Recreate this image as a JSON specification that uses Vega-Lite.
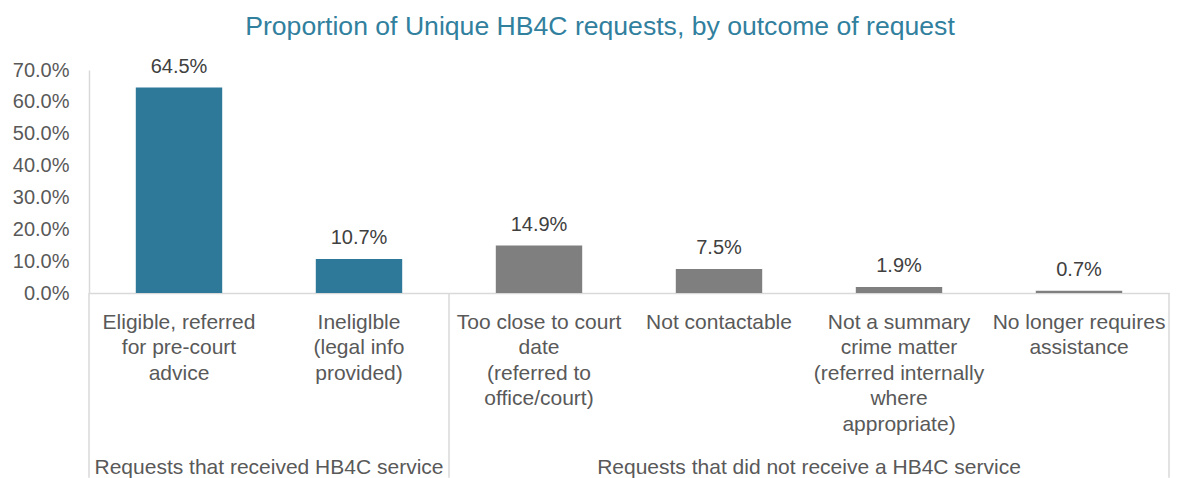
{
  "$schema": "https://vega.github.io/schema/vega-lite/v6.json",
  "width": 1080,
  "height": 223,
  "padding": {"left": 12, "top": 13, "right": 7, "bottom": 0},
  "title": {
    "text": "Proportion of Unique HB4C requests, by outcome of request",
    "fontSize": 26.6,
    "fontWeight": "normal",
    "color": "#31809E",
    "font": "Liberation Sans",
    "anchor": "middle",
    "frame": "bounds",
    "dx": 9,
    "offset": 16
  },
  "config": {
    "view": {"stroke": null},
    "font": "Liberation Sans",
    "axisY": {"labelOverlap": false, "tickCount": 8, "format": ".1%", "title": null, "labelFontSize": 20, "labelColor": "#595959", "labelPadding": 20, "ticks": false, "grid": false, "domainColor": "#D9D9D9", "domainWidth": 1.5}
  },
  "datasets": {
    "bars": [
      {"outcome": "Eligible, referred|for pre-court|advice", "value": 0.645, "group": "Requests that received HB4C service"},
      {"outcome": "Ineliglble|(legal info|provided)", "value": 0.107, "group": "Requests that received HB4C service"},
      {"outcome": "Too close to court|date|(referred to|office/court)", "value": 0.149, "group": "Requests that did not receive a HB4C service"},
      {"outcome": "Not contactable", "value": 0.075, "group": "Requests that did not receive a HB4C service"},
      {"outcome": "Not a summary|crime matter|(referred internally|where|appropriate)", "value": 0.019, "group": "Requests that did not receive a HB4C service"},
      {"outcome": "No longer requires|assistance", "value": 0.007, "group": "Requests that did not receive a HB4C service"}
    ],
    "groups": [
      {"outcome": "Ineliglble|(legal info|provided)", "group": "Requests that received HB4C service"},
      {"outcome": "Not a summary|crime matter|(referred internally|where|appropriate)", "group": "Requests that did not receive a HB4C service"}
    ],
    "leftEdges": [
      {"outcome": "Eligible, referred|for pre-court|advice"},
      {"outcome": "Too close to court|date|(referred to|office/court)"}
    ],
    "rightEdges": [
      {"outcome": "No longer requires|assistance"}
    ]
  },
  "layer": [
    {
      "data": {"name": "bars"},
      "mark": {"type": "bar", "width": {"band": 0.48}},
      "encoding": {
        "x": {
          "field": "outcome", "type": "nominal", "sort": null,
          "scale": {"paddingInner": 0, "paddingOuter": 0},
          "axis": {
            "title": null,
            "labelExpr": "split(datum.value, '|')",
            "labelAngle": 0,
            "labelFontSize": 21,
            "labelLineHeight": 25.6,
            "labelColor": "#595959",
            "labelPadding": 18,
            "labelBaseline": "top",
            "labelLimit": 0,
            "labelOverlap": false,
            "ticks": false,
            "domainColor": "#D9D9D9",
            "domainWidth": 1.5
          }
        },
        "y": {
          "field": "value", "type": "quantitative",
          "scale": {"domain": [0, 0.7], "nice": false},
          "axis": {
            "title": null,
            "format": ".1%",
            "values": [0, 0.1, 0.2, 0.3, 0.4, 0.5, 0.6, 0.7],
            "labelOverlap": false
          }
        },
        "color": {
          "field": "group", "type": "nominal",
          "scale": {
            "domain": ["Requests that received HB4C service", "Requests that did not receive a HB4C service"],
            "range": ["#2E7899", "#7F7F7F"]
          },
          "legend": null
        }
      }
    },
    {
      "data": {"name": "bars"},
      "mark": {"type": "text", "baseline": "bottom", "dy": -11, "fontSize": 20, "color": "#404040"},
      "encoding": {
        "x": {"field": "outcome", "type": "nominal", "sort": null},
        "y": {"field": "value", "type": "quantitative"},
        "text": {"field": "value", "type": "quantitative", "format": ".1%"}
      }
    },
    {
      "data": {"name": "leftEdges"},
      "mark": {"type": "rule", "color": "#D9D9D9", "strokeWidth": 1.5},
      "encoding": {
        "x": {"field": "outcome", "type": "nominal", "sort": null, "bandPosition": 0},
        "y": {"datum": 0},
        "y2": {"datum": -0.58}
      }
    },
    {
      "data": {"name": "rightEdges"},
      "mark": {"type": "rule", "color": "#D9D9D9", "strokeWidth": 1.5},
      "encoding": {
        "x": {"field": "outcome", "type": "nominal", "sort": null, "bandPosition": 1},
        "y": {"datum": 0},
        "y2": {"datum": -0.58}
      }
    },
    {
      "data": {"name": "groups"},
      "mark": {"type": "text", "baseline": "middle", "align": "center", "fontSize": 21, "color": "#595959"},
      "encoding": {
        "x": {"field": "outcome", "type": "nominal", "sort": null, "bandPosition": 0},
        "y": {"datum": -0.55},
        "text": {"field": "group"}
      }
    }
  ]
}
